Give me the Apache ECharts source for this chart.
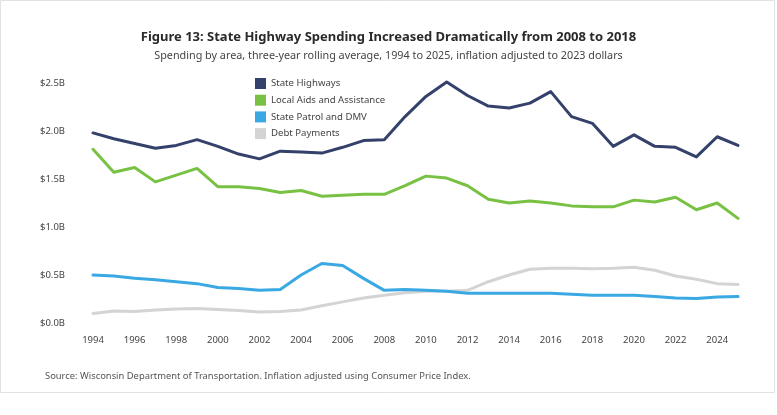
<!DOCTYPE html>
<html>
<head>
<meta charset="utf-8">
<script src="https://cdn.jsdelivr.net/npm/echarts@6/dist/echarts.min.js"></script>
<style>
html,body{margin:0;padding:0;background:#fff;}
#c{width:777px;height:415px;}
</style>
</head>
<body>
<div id="c"></div>
<script>
const years = [];
for (let y = 1994; y <= 2025; y++) years.push(String(y));

const stateHighways = [1.98,1.92,1.87,1.82,1.85,1.91,1.84,1.76,1.71,1.79,1.78,1.77,1.83,1.90,1.91,2.15,2.36,2.51,2.37,2.26,2.24,2.29,2.41,2.15,2.08,1.84,1.96,1.84,1.83,1.73,1.94,1.85];
const localAids = [1.81,1.57,1.62,1.47,1.54,1.61,1.42,1.42,1.40,1.36,1.38,1.32,1.33,1.34,1.34,1.43,1.53,1.51,1.43,1.29,1.25,1.27,1.25,1.22,1.21,1.21,1.28,1.26,1.31,1.18,1.25,1.09];
const statePatrol = [0.50,0.49,0.465,0.45,0.43,0.41,0.37,0.36,0.34,0.35,0.50,0.62,0.60,0.465,0.34,0.35,0.34,0.33,0.31,0.31,0.31,0.31,0.31,0.30,0.29,0.29,0.29,0.275,0.26,0.255,0.27,0.275];
const debtPayments = [0.10,0.125,0.12,0.135,0.145,0.15,0.14,0.13,0.115,0.12,0.135,0.18,0.22,0.26,0.29,0.315,0.33,0.33,0.34,0.43,0.50,0.56,0.57,0.57,0.565,0.57,0.58,0.55,0.49,0.455,0.41,0.40];

const seriesNames = ['State Highways','Local Aids and Assistance','State Patrol and DMV','Debt Payments'];
const colors = ['#33416b','#79c143','#3aa9e3','#d4d4d4'];
const titleText = 'Figure 13: State Highway Spending Increased Dramatically from 2008 to 2018';
const subtitleText = 'Spending by area, three-year rolling average, 1994 to 2025, inflation adjusted to 2023 dollars';
const sourceText = 'Source: Wisconsin Department of Transportation. Inflation adjusted using Consumer Price Index.';

const FONT = '"Noto Sans", sans-serif';
const chart = echarts.init(document.getElementById('c'), null, {renderer:'canvas'});
const dataSets = [stateHighways, localAids, statePatrol, debtPayments];

chart.setOption({
  animation:false,
  backgroundColor:'#ffffff',
  title:[
    {text:titleText, left:'center', top:26, textStyle:{fontFamily:FONT, fontSize:13, fontWeight:'bold', color:'#2a2a2a'}},
    {text:subtitleText, left:'center', top:45, textStyle:{fontFamily:FONT, fontSize:10.8, fontWeight:'normal', color:'#444'}},
    {text:sourceText, left:40, top:367, textStyle:{fontFamily:FONT, fontSize:9.4, fontWeight:'normal', color:'#555'}}
  ],
  graphic:[
    {type:'rect', shape:{x:0.5, y:0.5, width:774, height:392}, style:{fill:'none', stroke:'#e2e2e2', lineWidth:1}, silent:true}
  ],
  legend:{
    orient:'vertical', left:250, top:73,
    data:seriesNames,
    icon:'rect', itemWidth:11, itemHeight:11, itemGap:5.7,
    textStyle:{fontFamily:FONT, fontSize:9.6, color:'#444', lineHeight:11},
    selectedMode:false
  },
  grid:{left:93, right:39, top:83, bottom:92, containLabel:false},
  xAxis:{
    type:'category', data:years, boundaryGap:false,
    axisLine:{show:false}, axisTick:{show:false}, splitLine:{show:false},
    axisLabel:{interval:1, margin:12, fontFamily:FONT, fontSize:9.5, color:'#444'}
  },
  yAxis:{
    type:'value', min:0, max:2.5, interval:0.5,
    axisLine:{show:false}, axisTick:{show:false}, splitLine:{show:false},
    axisLabel:{margin:28, fontFamily:FONT, fontSize:9.5, color:'#444', formatter:v=>'$'+v.toFixed(1)+'B'}
  },
  series: seriesNames.map((n,i)=>({
    name:n, type:'line', data:dataSets[i], symbol:'none', clip:false,
    z: i===3 ? 1 : 5-i,
    lineStyle:{width:3, color:colors[i], join:'round', cap:'round'},
    itemStyle:{color:colors[i]}
  }))
});
</script>
</body>
</html>
